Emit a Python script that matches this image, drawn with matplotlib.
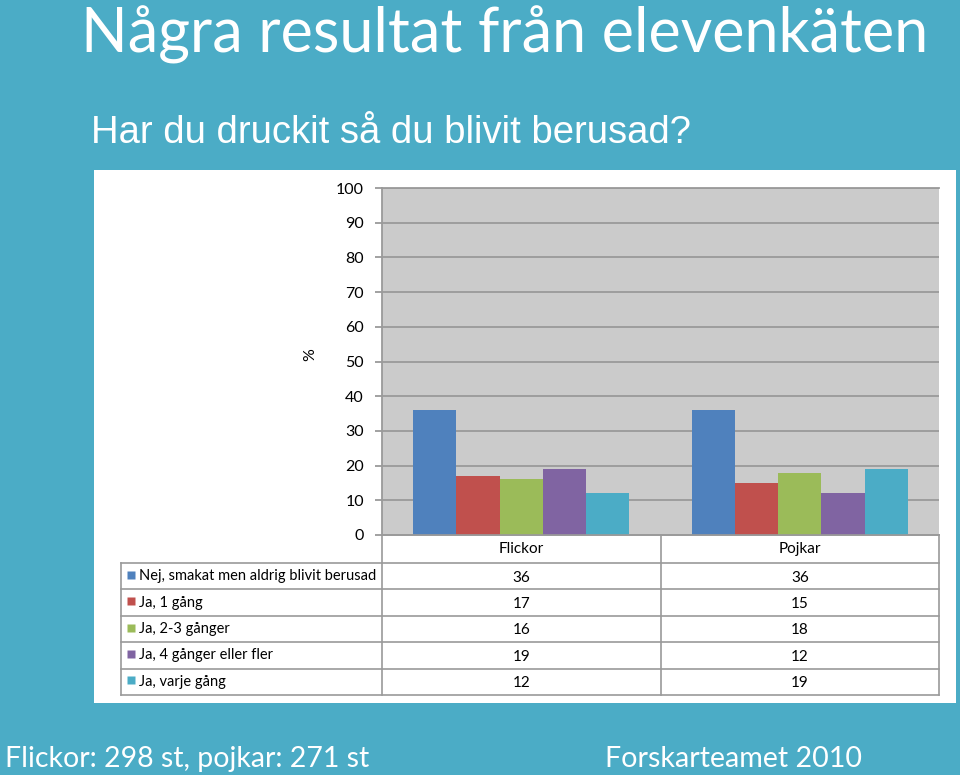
import numpy as np
import matplotlib
matplotlib.use("Agg")
import matplotlib.pyplot as plt
from matplotlib.patches import Rectangle
from matplotlib.transforms import blended_transform_factory

# data
groups = ["Flickor", "Pojkar"]
answers = [
    "Nej, smakat men aldrig blivit berusad",
    "Ja, 1 gång",
    "Ja, 2-3 gånger",
    "Ja, 4 gånger eller fler",
    "Ja, varje gång",
]
flickor = [36, 17, 16, 19, 12]
pojkar = [36, 15, 18, 12, 19]
colors = ["#4F81BD", "#C0504D", "#9BBB59", "#8064A2", "#4BACC6"]

title = "Några resultat från elevenkäten"
subtitle = "Har du druckit så du blivit berusad?"
footer_left = "Flickor: 298 st, pojkar: 271 st"
footer_right = "Forskarteamet 2010"

W, H = 960, 775
BG = "#4BACC6"
GRID = "#9A9A9A"
FONT = "Lato"


def fpos(x, y):
    """pixel position -> figure fraction"""
    return x / W, 1 - y / H


fig = plt.figure(figsize=(W / 100, H / 100), dpi=100, facecolor=BG)
renderer = fig.canvas.get_renderer()


def fitted_text(x, y, s, width, **kw):
    t = fig.text(*fpos(x, y), s, ha="left", va="baseline", **kw)
    w = t.get_window_extent(renderer).width
    t.set_fontsize(t.get_fontsize() * width / w)
    return t


# slide texts
fig.text(*fpos(81, 53), title, ha="left", va="baseline", color="white",
         family=FONT, fontsize=44)
fitted_text(91, 143, subtitle, 599, color="white", family="Liberation Sans", fontsize=27)
fitted_text(5, 767, footer_left, 365, color="white", family=FONT, fontsize=20)
fitted_text(605, 767, footer_right, 257, color="white", family=FONT, fontsize=20)

# white chart box
x0, y0 = fpos(94, 703)
fig.patches.append(Rectangle((x0, y0), (956 - 94) / W, (703 - 170) / H,
                             transform=fig.transFigure, facecolor="white",
                             edgecolor="none", zorder=-1))

# bar chart
ax = fig.add_axes([382 / W, 1 - 535 / H, (939 - 382) / W, (535 - 188) / H])
ax.set_facecolor("#CBCBCB")
x = np.arange(len(groups))
values = np.array([flickor, pojkar]).T
bw = 0.155
for i, c in enumerate(colors):
    ax.bar(x + (i - 2) * bw, values[i], bw, color=c, zorder=3)
ax.set_xlim(-0.5, 1.5)
ax.set_ylim(0, 100)
ax.set_yticks(range(0, 101, 10))
ax.set_xticks([])
ax.yaxis.grid(True, color=GRID, lw=1.3)
ax.set_axisbelow(True)
ax.spines["right"].set_visible(False)
for s in ["left", "top", "bottom"]:
    ax.spines[s].set_color(GRID)
    ax.spines[s].set_linewidth(1.3)
ax.tick_params(axis="y", length=5, width=1.3, color=GRID, pad=8,
               labelsize=11.5, labelcolor="black")
for lab in ax.get_yticklabels():
    lab.set_family(FONT)
fig.text(*fpos(310, 355), "%", rotation=90, ha="center", va="center",
         family=FONT, fontsize=11.5)

# data table under the chart
tax = fig.add_axes([121 / W, 1 - 695 / H, (939 - 121) / W, (695 - 535) / H])
left = 1.5 - (939 - 121) * 2 / (939 - 382)
head = 1.06
nrows = len(answers)
tax.set_xlim(left, 1.5)
tax.set_ylim(head + nrows, 0)
tax.axis("off")
lk = dict(color=GRID, lw=1.2, clip_on=False)
tax.plot([-0.5, 1.5], [0, 0], **lk)
for k in range(nrows + 1):
    tax.plot([left, 1.5], [head + k, head + k], **lk)
for xv in [-0.5, 0.5, 1.5]:
    tax.plot([xv, xv], [0, head + nrows], **lk)
tax.plot([left, left], [head, head + nrows], **lk)

for j, g in enumerate(groups):
    tax.text(x[j], head / 2, g, ha="center", va="center", family=FONT, fontsize=11)
    for i in range(nrows):
        tax.text(x[j], head + i + 0.55, str(values[i][j]), ha="center", va="center",
                 family=FONT, fontsize=11)

trans = blended_transform_factory(tax.transAxes, tax.transData)
for i, (a, c) in enumerate(zip(answers, colors)):
    yc = head + i + 0.5
    tax.plot([9.5 / 818], [yc - 0.05], marker="s", ms=6.3, color=c, mec="none",
             transform=trans, clip_on=False)
    tax.text(18 / 818, yc, a, ha="left", va="center", transform=trans,
             family=FONT, fontsize=10.5)

fig.savefig("out.png", dpi=100, facecolor=BG)
